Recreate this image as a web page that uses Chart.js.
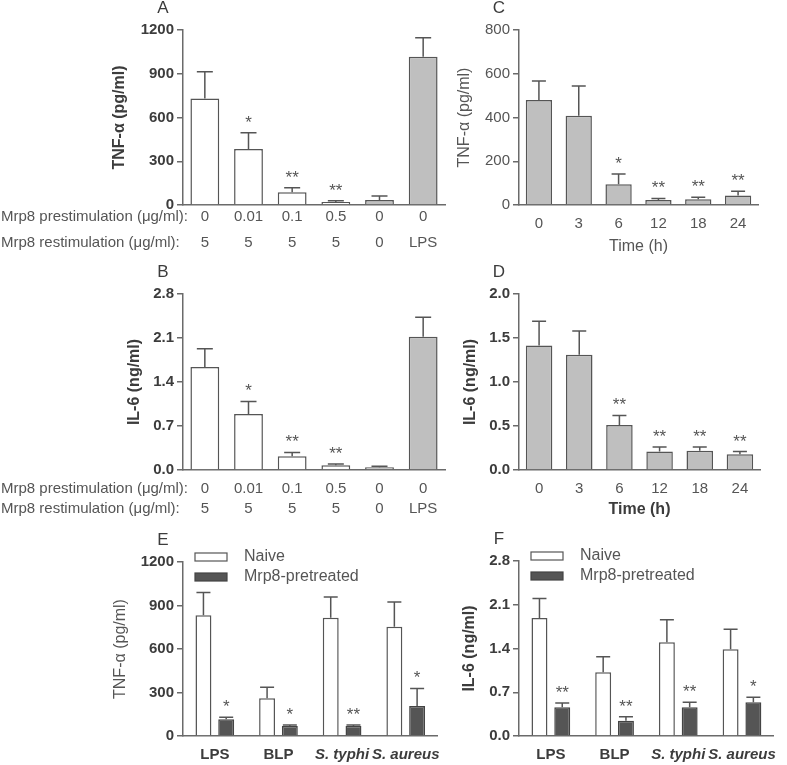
<!DOCTYPE html>
<html>
<head>
<meta charset="utf-8">
<script src="https://cdn.jsdelivr.net/npm/chart.js@4.4.0/dist/chart.umd.min.js"></script>
<style>
  body { margin: 0; background: #fff; }
  #wrap { position: relative; width: 787px; height: 765px; }
  #wrap canvas { position: absolute; }
</style>
</head>
<body>
<div id="wrap">
  <canvas id="chartA" width="450" height="260" style="left:0;top:0"></canvas>
  <canvas id="chartB" width="450" height="262" style="left:0;top:260px"></canvas>
  <canvas id="chartE" width="450" height="245" style="left:0;top:520px"></canvas>
  <canvas id="chartC" width="387" height="260" style="left:400px;top:0"></canvas>
  <canvas id="chartD" width="387" height="262" style="left:400px;top:260px"></canvas>
  <canvas id="chartF" width="387" height="245" style="left:400px;top:520px"></canvas>
</div>
<script>
// dose series (A, B)
const prestimLabels = ['0', '0.01', '0.1', '0.5', '0', '0'];
const restimLabels = ['5', '5', '5', '5', '0', 'LPS'];
const tnfDoseMean = [730, 384, 87, 21, 34, 1017];
const tnfDoseSem = [184, 112, 32, 9, 28, 130];
const il6DoseMean = [1.64, 0.89, 0.22, 0.075, 0.043, 2.12];
const il6DoseSem = [0.29, 0.20, 0.06, 0.02, 0.017, 0.31];
const doseStars = ['', '*', '**', '**', '', ''];
const doseFill = ['#ffffff', '#ffffff', '#ffffff', '#ffffff', '#bfbfbf', '#bfbfbf'];

// time series (C, D)
const timeLabels = ['0', '3', '6', '12', '18', '24'];
const tnfTimeMean = [480, 408, 95, 23, 26, 44];
const tnfTimeSem = [87, 136, 47, 7, 9, 19];
const tnfTimeStars = ['', '', '*', '**', '**', '**'];
const il6TimeMean = [1.415, 1.31, 0.51, 0.21, 0.22, 0.18];
const il6TimeSem = [0.275, 0.27, 0.11, 0.05, 0.04, 0.03];
const il6TimeStars = ['', '', '**', '**', '**', '**'];

// stimulus series (E, F)
const stimLabels = ['LPS', 'BLP', 'S. typhi', 'S. aureus'];
const tnfNaive = [833, 260, 815, 753];
const tnfNaiveSem = [156, 77, 144, 172];
const tnfMrp8 = [115, 69, 69, 207];
const tnfMrp8Sem = [14, 7, 7, 121];
const tnfStimStars = ['*', '*', '**', '*'];
const il6Naive = [1.89, 1.02, 1.50, 1.39];
const il6NaiveSem = [0.31, 0.25, 0.36, 0.32];
const il6Mrp8 = [0.46, 0.245, 0.46, 0.54];
const il6Mrp8Sem = [0.07, 0.065, 0.08, 0.08];
const il6StimStars = ['**', '**', '**', '*'];

const FONT = '"Liberation Sans", Arial, sans-serif';
Chart.defaults.font.family = FONT;
const AXIS = '#6a6a6a';
const DARK = '#3c3c3c';
const GREY = '#555555';

const errorBars = {
  id: 'errorBars',
  afterDatasetsDraw(chart, args, opts) {
    const ctx = chart.ctx;
    const y = chart.scales.y;
    chart.data.datasets.forEach((ds, di) => {
      if (!ds.sem) return;
      chart.getDatasetMeta(di).data.forEach((bar, i) => {
        const top = y.getPixelForValue(ds.data[i] + ds.sem[i]);
        const cap = opts.cap || bar.width * 0.28;
        ctx.save();
        ctx.strokeStyle = GREY;
        ctx.lineWidth = 1.5;
        ctx.beginPath();
        ctx.moveTo(bar.x, bar.y);
        ctx.lineTo(bar.x, top);
        ctx.moveTo(bar.x - cap, top);
        ctx.lineTo(bar.x + cap, top);
        ctx.stroke();
        if (ds.stars && ds.stars[i]) {
          ctx.fillStyle = GREY;
          ctx.font = '17px ' + FONT;
          ctx.textAlign = 'center';
          ctx.textBaseline = 'alphabetic';
          ctx.fillText(ds.stars[i], bar.x, top - 5);
        }
        ctx.restore();
      });
    });
  }
};

const panelText = {
  id: 'panelText',
  afterDraw(chart, args, opts) {
    const {ctx, chartArea} = chart;
    ctx.save();
    ctx.fillStyle = DARK;
    ctx.font = '17px ' + FONT;
    ctx.textAlign = 'center';
    ctx.textBaseline = 'middle';
    ctx.fillText(opts.letter, chartArea.left - 20, chartArea.top - 22);
    if (opts.rows) {
      ctx.fillStyle = GREY;
      ctx.font = '15px ' + FONT;
      ctx.textAlign = 'left';
      opts.rows.forEach((r, i) => {
        ctx.fillText(r, 1, chartArea.bottom + opts.rowFirst + i * opts.rowGap);
      });
    }
    ctx.restore();
  }
};

const boxLegend = {
  id: 'boxLegend',
  afterDraw(chart, args, opts) {
    if (!opts.show) return;
    const {ctx, chartArea} = chart;
    ctx.save();
    ctx.font = '16px ' + FONT;
    ctx.textBaseline = 'middle';
    chart.data.datasets.forEach((ds, i) => {
      const bx = chartArea.left + 12;
      const by = chartArea.top - 9 + i * 20;
      ctx.fillStyle = ds.backgroundColor;
      ctx.fillRect(bx, by, 32, 8);
      ctx.strokeStyle = ds.borderColor;
      ctx.lineWidth = 1.2;
      ctx.strokeRect(bx, by, 32, 8);
      ctx.fillStyle = GREY;
      ctx.fillText(ds.label, bx + 49, by + 4);
    });
    ctx.restore();
  }
};

function buildPanel(id, cfg) {
  const c = document.getElementById(id);
  const w = c.width, h = c.height;
  const padLeft = cfg.titleX - 9.6;
  const xH = cfg.xTitle ? cfg.xTitleY + 9.6 - cfg.bottom : h - cfg.bottom;
  const tickFont = cfg.xTickFont || {size: 15, lineHeight: cfg.xLine || 1.2};
  return new Chart(c, {
    type: 'bar',
    data: {labels: cfg.labels, datasets: cfg.datasets},
    options: {
      responsive: false,
      animation: false,
      layout: {padding: {left: padLeft, top: cfg.top, right: w - cfg.right, bottom: h - cfg.bottom - xH}},
      plugins: {
        legend: {display: false},
        tooltip: {enabled: false},
        errorBars: {cap: cfg.cap},
        panelText: {letter: cfg.letter, rows: cfg.rows, rowFirst: cfg.rowFirst, rowGap: cfg.rowGap},
        boxLegend: {show: !!cfg.legend}
      },
      scales: {
        x: {
          offset: true,
          grid: {display: false, drawTicks: false},
          border: {display: true, color: AXIS, width: 1.5},
          ticks: {font: tickFont, color: cfg.xTickColor || GREY, padding: cfg.xPad, maxRotation: 0, autoSkip: false},
          title: {
            display: !!cfg.xTitle, text: cfg.xTitle, color: cfg.xTitleBold ? DARK : GREY,
            font: {size: 16, weight: cfg.xTitleBold ? 'bold' : 'normal'}, padding: 0
          },
          afterFit: s => { s.height = xH; }
        },
        y: {
          min: 0,
          max: cfg.yMax,
          ticks: {
            stepSize: cfg.yStep,
            font: {size: 15, weight: cfg.yTickBold ? 'bold' : 'normal'},
            color: cfg.yTickBold ? DARK : GREY,
            padding: 3,
            callback: v => Number(v).toFixed(cfg.yDec)
          },
          grid: {drawOnChartArea: false, drawTicks: true, tickLength: 6, color: AXIS, lineWidth: 1.5},
          border: {display: true, color: AXIS, width: 1.5},
          title: {
            display: true, text: cfg.yTitle, color: cfg.yTitleBold ? DARK : GREY,
            font: {size: 16, weight: cfg.yTitleBold ? 'bold' : 'normal'}, padding: 0
          },
          afterFit: s => { s.width = cfg.left - padLeft; }
        }
      }
    },
    plugins: [errorBars, panelText, boxLegend]
  });
}

const doseLabels = prestimLabels.map((p, i) => [p, restimLabels[i]]);
const doseRows = ['Mrp8 prestimulation (\u03bcg/ml):', 'Mrp8 restimulation (\u03bcg/ml):'];

function singleSeries(mean, sem, stars, fill) {
  return [{
    data: mean, sem: sem, stars: stars,
    backgroundColor: fill, borderColor: GREY, borderWidth: 1.5,
    categoryPercentage: 1, barPercentage: 0.66
  }];
}

function pairSeries(naive, naiveSem, mrp8, mrp8Sem, stars) {
  const common = {borderWidth: 1.5, categoryPercentage: 0.715, barPercentage: 0.7};
  return [
    Object.assign({label: 'Naive', data: naive, sem: naiveSem, backgroundColor: '#ffffff', borderColor: GREY}, common),
    Object.assign({label: 'Mrp8-pretreated', data: mrp8, sem: mrp8Sem, stars: stars, backgroundColor: '#555555', borderColor: '#444444'}, common)
  ];
}

const stimTickFont = ctx => ({size: 15, weight: 'bold', style: ctx.index >= 2 ? 'italic' : 'normal'});

buildPanel('chartA', {
  letter: 'A', labels: doseLabels, datasets: singleSeries(tnfDoseMean, tnfDoseSem, doseStars, doseFill),
  left: 183, top: 30, right: 445, bottom: 205, titleX: 120,
  yMax: 1200, yStep: 300, yDec: 0, yTitle: 'TNF-\u03b1 (pg/ml)', yTitleBold: true, yTickBold: true,
  xLine: 1.77, xPad: -1.6, rows: doseRows, rowFirst: 11.7, rowGap: 26.6, cap: 8
});

buildPanel('chartB', {
  letter: 'B', labels: doseLabels, datasets: singleSeries(il6DoseMean, il6DoseSem, doseStars, doseFill),
  left: 183, top: 34, right: 445, bottom: 210, titleX: 135,
  yMax: 2.8, yStep: 0.7, yDec: 1, yTitle: 'IL-6 (ng/ml)', yTitleBold: true, yTickBold: true,
  xLine: 1.373, xPad: 8.4, rows: doseRows, rowFirst: 18.7, rowGap: 20.6, cap: 8
});

buildPanel('chartC', {
  letter: 'C', labels: timeLabels, datasets: singleSeries(tnfTimeMean, tnfTimeSem, tnfTimeStars, '#bfbfbf'),
  left: 119, top: 30, right: 358, bottom: 205, titleX: 65,
  yMax: 800, yStep: 200, yDec: 0, yTitle: 'TNF-\u03b1 (pg/ml)', yTitleBold: false, yTickBold: false,
  xPad: 10, xTitle: 'Time (h)', xTitleY: 247, xTitleBold: false, cap: 7
});

buildPanel('chartD', {
  letter: 'D', labels: timeLabels, datasets: singleSeries(il6TimeMean, il6TimeSem, il6TimeStars, '#bfbfbf'),
  left: 119, top: 34, right: 360, bottom: 210, titleX: 71,
  yMax: 2.0, yStep: 0.5, yDec: 1, yTitle: 'IL-6 (ng/ml)', yTitleBold: true, yTickBold: true,
  xPad: 10, xTitle: 'Time (h)', xTitleY: 250, xTitleBold: true, cap: 7
});

buildPanel('chartE', {
  letter: 'E', labels: stimLabels, datasets: pairSeries(tnfNaive, tnfNaiveSem, tnfMrp8, tnfMrp8Sem, tnfStimStars),
  left: 183, top: 42, right: 446, bottom: 216, titleX: 121,
  yMax: 1200, yStep: 300, yDec: 0, yTitle: 'TNF-\u03b1 (pg/ml)', yTitleBold: false, yTickBold: true,
  xPad: 10, xTickFont: stimTickFont, xTickColor: DARK, legend: true, cap: 7
});

buildPanel('chartF', {
  letter: 'F', labels: stimLabels, datasets: pairSeries(il6Naive, il6NaiveSem, il6Mrp8, il6Mrp8Sem, il6StimStars),
  left: 119, top: 41, right: 377, bottom: 216, titleX: 70,
  yMax: 2.8, yStep: 0.7, yDec: 1, yTitle: 'IL-6 (ng/ml)', yTitleBold: true, yTickBold: true,
  xPad: 10, xTickFont: stimTickFont, xTickColor: DARK, legend: true, cap: 7
});
</script>
</body>
</html>
